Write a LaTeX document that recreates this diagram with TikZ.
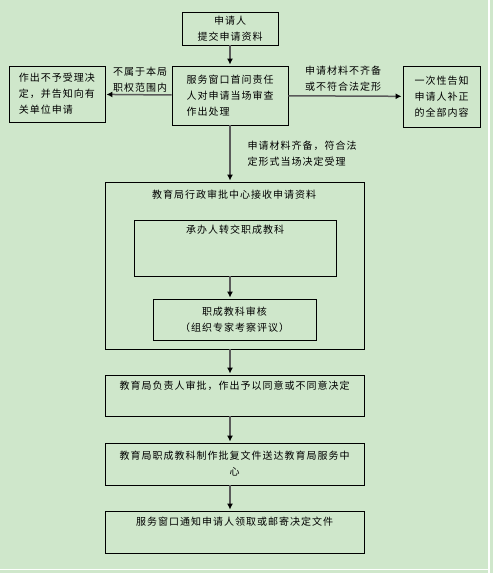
\documentclass[tikz,border=0pt]{standalone}
\usepackage{fontspec}
\setmainfont[LetterSpace=10]{Noto Sans CJK SC}
\usetikzlibrary{arrows.meta}
\definecolor{bg}{RGB}{207,231,203}
\definecolor{arrgray}{RGB}{90,90,90}

\begin{document}
\begin{tikzpicture}[
x=1pt,y=-1pt,
font=\fontsize{10}{16}\selectfont,
box/.style={
draw,
line width=0.9pt,
inner sep=0pt,
align=center
},
lbl/.style={
align=left,
inner sep=0pt
},
arr/.style={
draw=arrgray,
line width=1.5pt,
-{Latex[color=black,length=6pt,width=6pt]},
shorten >=1pt
}
]

\fill[bg] (0,0) rectangle (493,573);
\useasboundingbox (0,0) rectangle (493,573);
\draw[white,line width=1.2pt] (489,0) -- (489,573);
\draw[white,line width=1.2pt] (0,569.5) -- (489,569.5);

\node[box,minimum width=96,minimum height=33] (sq) at (230,28.5)
{申请人\\提交申请资料};

\node[box,minimum width=116,minimum height=59,align=left] (fw) at (230,95.5)
{服务窗口首问责任\\人对申请当场审查\\作出处理};

\node[box,minimum width=96,minimum height=56,align=left] (bsl) at (57,94)
{作出不予受理决\\定，并告知向有\\关单位申请};

\node[box,minimum width=77,minimum height=61,align=left] (yc) at (441.5,96.5)
{一次性告知\\申请人补正\\的全部内容};

\node[lbl] (bsl-l) at (140,80)
{不属于本局\\职权范围内};

\node[lbl] (yc-l) at (343,79)
{申请材料不齐备\\或不符合法定形};

\node[lbl] (sl-l) at (302,154)
{申请材料齐备，符合法\\定形式当场决定受理};

\node[box,minimum width=259,minimum height=167] (zx) at (234.5,265.5) {};

\node[inner sep=0pt] (zx-t) at (234,195)
{教育局行政审批中心接收申请资料};

\node[box,minimum width=202,minimum height=56] (cb) at (235,248)
{承办人转交职成教科\\ \strut\\ \strut};

\node[box,minimum width=163,minimum height=41] (sh) at (234.5,319.5)
{职成教科审核\\（组织专家考察评议）};

\node[box,minimum width=259,minimum height=41] (sp) at (234.5,395.5)
{教育局负责人审批，作出予以同意或不同意决定\\ \strut};

\node[box,minimum width=259,minimum height=42] (pf) at (234.5,464)
{教育局职成教科制作批复文件送达教育局服务中\\心};

\node[box,minimum width=259,minimum height=42] (tz) at (234.5,532)
{服务窗口通知申请人领取或邮寄决定文件\\ \strut};

\draw[arr] (sq) -- (fw);
\draw[arr] (fw) -- (bsl);
\draw[arr] (fw) -- (yc);
\draw[arr] (fw) -- (fw |- zx.north);
\draw[arr] (fw |- cb.south) -- (fw |- sh.north);
\draw[arr] (fw |- zx.south) -- (fw |- sp.north);
\draw[arr] (fw |- sp.south) -- (fw |- pf.north);
\draw[arr] (fw |- pf.south) -- (fw |- tz.north);

\end{tikzpicture}
\end{document}
